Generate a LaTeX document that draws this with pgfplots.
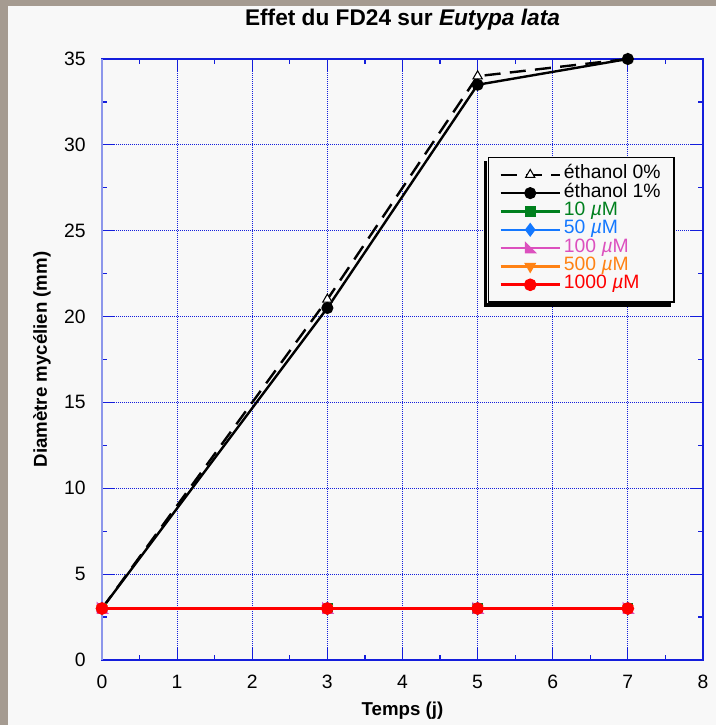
\documentclass[border=0pt]{standalone}
\usepackage{pgfplots}
\pgfplotsset{compat=1.18}
\usepackage{fontspec}
\setmainfont{Liberation Sans}
\definecolor{bgphoto}{RGB}{165,155,145}
\definecolor{panel}{RGB}{248,248,248}
\definecolor{axblue}{RGB}{20,30,220}
\definecolor{axlight}{RGB}{140,150,235}
\definecolor{sgreen}{RGB}{0,128,30}
\definecolor{sblue}{RGB}{20,120,255}
\definecolor{smag}{RGB}{220,80,190}
\definecolor{sorange}{RGB}{255,130,20}
\definecolor{sred}{RGB}{255,0,0}
\pgfdeclareplotmark{rtri}{%
  \pgfpathmoveto{\pgfqpoint{-\pgfplotmarksize}{\pgfplotmarksize}}%
  \pgfpathlineto{\pgfqpoint{-\pgfplotmarksize}{-\pgfplotmarksize}}%
  \pgfpathlineto{\pgfqpoint{\pgfplotmarksize}{-\pgfplotmarksize}}%
  \pgfpathclose\pgfusepathqfillstroke}
\begin{document}
\begin{tikzpicture}
\useasboundingbox (0,0) rectangle (537pt,543.75pt);
\fill[bgphoto] (0,0) rectangle (537pt,543.75pt);
\fill[panel] (6pt,0) rectangle (537pt,539.25pt);
\begin{axis}[
  at={(76.5pt,48.75pt)}, anchor=south west,
  scale only axis, width=450.75pt, height=450.75pt,
  xmin=0, xmax=8, ymin=0, ymax=35,
  xtick={0,...,8}, ytick={0,5,...,35},
  minor x tick num=1, minor y tick num=1,
  tick align=inside,
  major tick length=9pt, minor tick length=3.5pt,
  axis line style={axblue, line width=1pt},
  every tick/.style={axblue, line width=0.9pt},
  grid=major,
  major grid style={axblue, dash pattern=on 0.75pt off 0.75pt, line width=0.8pt},
  /pgf/number format/assume math mode=true,
  tick label style={font=\fontsize{14.5}{16}\selectfont, black, inner sep=0pt},
  xticklabel style={anchor=center, yshift=-16.5pt},
  yticklabel style={anchor=east, xshift=-12pt},
  title={\bfseries Effet du FD24 sur \textit{Eutypa lata}},
  title style={font=\fontsize{17}{20}\selectfont, at={(axis description cs:0.5,1.0516)}, anchor=center},
  xlabel={\bfseries Temps (j)},
  ylabel={\bfseries Diamètre mycélien (mm)},
  label style={font=\fontsize{14}{16}\selectfont},
  xlabel style={at={(axis description cs:0.5,-0.0849)}, anchor=center},
  ylabel style={at={(axis description cs:-0.0998,0.5)}, anchor=center},
  legend style={at={(0.642,0.837)}, anchor=north west,
    draw=black, line width=1pt, fill=panel,
    font=\fontsize{14.5}{16}\selectfont,
    row sep=0pt, inner xsep=8pt, inner ysep=6pt,
    nodes={inner ysep=0pt, inner xsep=2pt, text height=10pt, text depth=3.75pt},
    name=leg},
  legend cell align=left,
  legend image code/.code={\draw[mark repeat=2,mark phase=2] plot coordinates {(0cm,0cm) (0.78cm,0cm) (1.56cm,0cm)};},
  mark size=3.6pt,
  clip=false,
]
\draw[axlight, line width=1pt] (axis cs:0,0) -- (axis cs:0,35);
\addplot[black, line width=1.8pt, dash pattern=on 12pt off 7pt, mark=triangle*, mark size=4pt, mark options={solid, fill=white, line width=0.8pt}]
  coordinates {(0,3) (3,21) (5,34) (7,35)};
\addlegendentry{éthanol 0\%}
\addplot[black, line width=1.8pt, mark=*]
  coordinates {(0,3) (3,20.5) (5,33.5) (7,35)};
\addlegendentry{éthanol 1\%}
\addplot[sgreen, line width=1.6pt, mark=square*, mark size=3.2pt]
  coordinates {(0,3) (3,3) (5,3) (7,3)};
\addlegendentry{\textcolor{sgreen}{10 {\itshape µ}M}}
\addplot[sblue, line width=1.6pt, mark=diamond*, mark size=4pt]
  coordinates {(0,3) (3,3) (5,3) (7,3)};
\addlegendentry{\textcolor{sblue}{50 {\itshape µ}M}}
\addplot[smag, line width=1.6pt, mark=rtri, mark size=3.2pt]
  coordinates {(0,3) (3,3) (5,3) (7,3)};
\addlegendentry{\textcolor{smag}{100 {\itshape µ}M}}
\addplot[sorange, line width=1.6pt, mark=triangle*, mark options={rotate=180}]
  coordinates {(0,3) (3,3) (5,3) (7,3)};
\addlegendentry{\textcolor{sorange}{500 {\itshape µ}M}}
\addplot[sred, line width=2.2pt, mark=*]
  coordinates {(0,3) (3,3) (5,3) (7,3)};
\addlegendentry{\textcolor{sred}{1000 {\itshape µ}M}}
\end{axis}
\fill[black] ([shift={(-3pt,-3pt)}]leg.south west) rectangle ([shift={(-0.5pt,-3pt)}]leg.north west);
\fill[black] ([shift={(-3pt,-3pt)}]leg.south west) rectangle ([shift={(-3pt,-0.5pt)}]leg.south east);
\end{tikzpicture}
\end{document}
